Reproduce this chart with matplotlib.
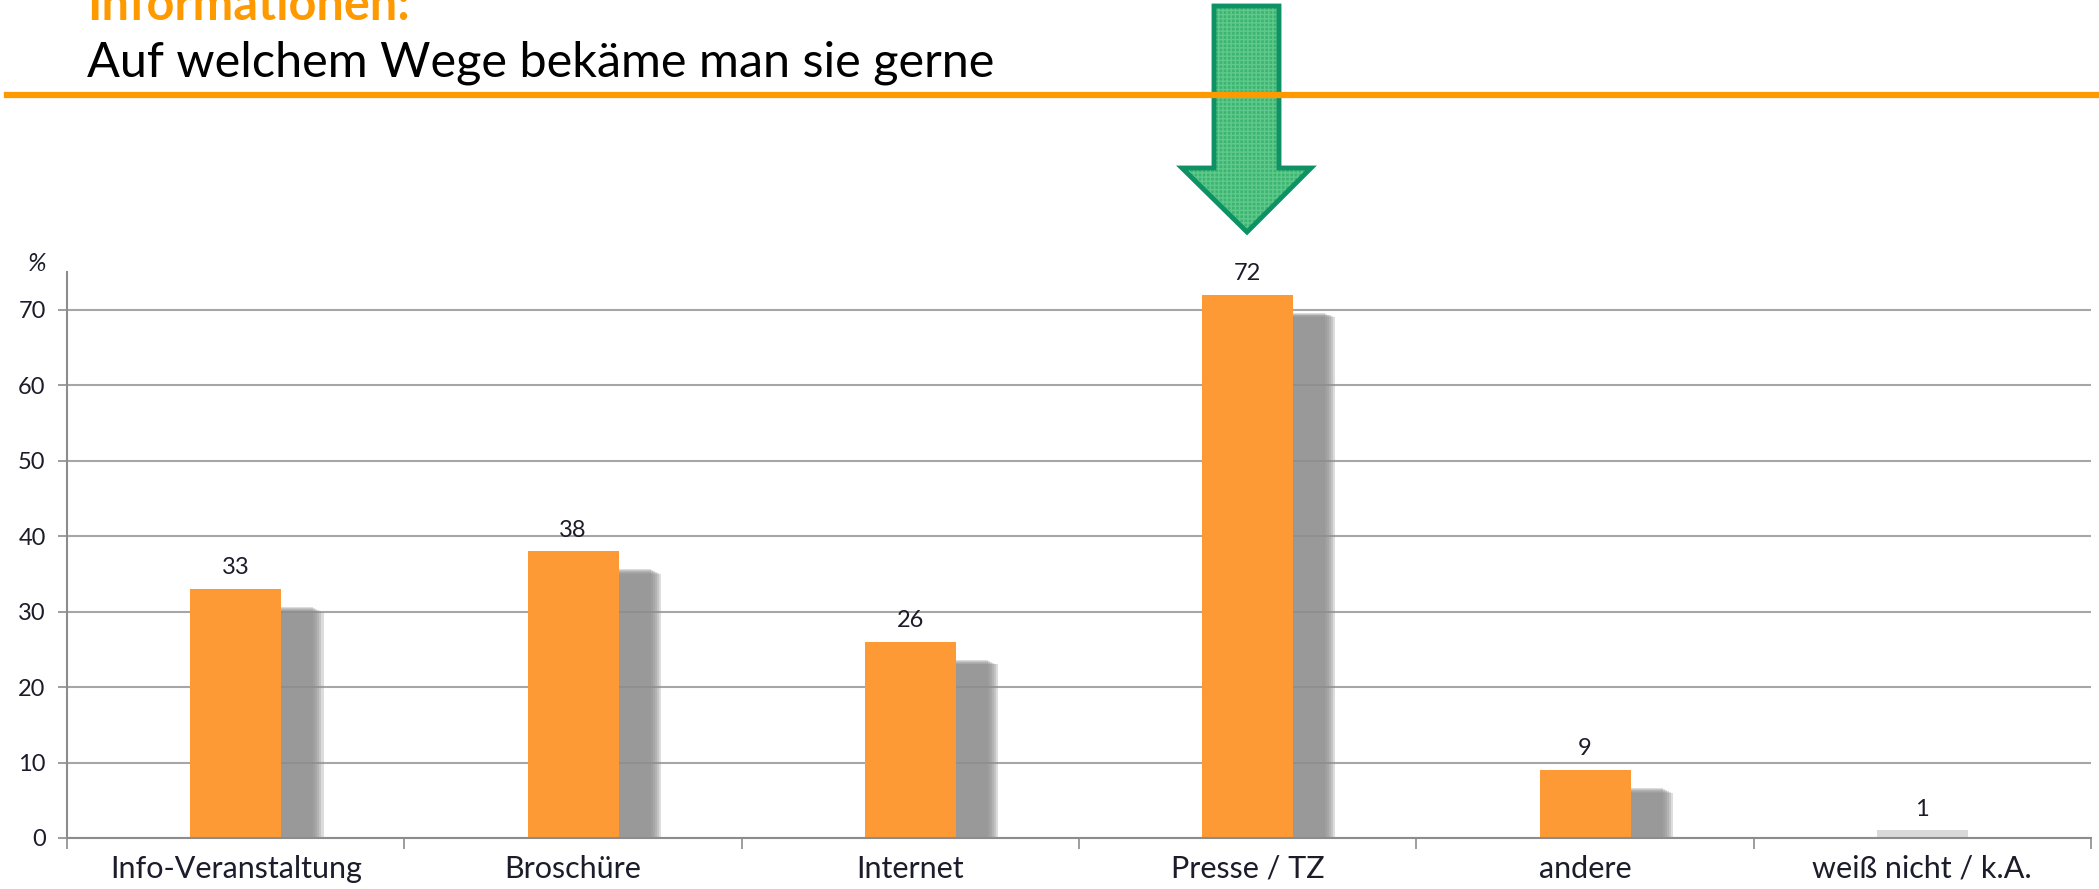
import matplotlib
matplotlib.use("Agg")
from matplotlib import pyplot as plt
from matplotlib.patches import Polygon
from matplotlib.lines import Line2D
import numpy as np

categories = ["Info-Veranstaltung", "Broschüre", "Internet", "Presse / TZ", "andere", "weiß nicht / k.A."]
values = [33, 38, 26, 72, 9, 1]
bar_colors = ["#fd9a35", "#fd9a35", "#fd9a35", "#fd9a35", "#fd9a35", "#d9d9d9"]
yticks = [0, 10, 20, 30, 40, 50, 60, 70]

plt.rcParams['font.family'] = ['Lato', 'DejaVu Sans']

fig = plt.figure(figsize=(20.99, 8.89), dpi=100)
ax = fig.add_axes([0.032, 0.0574, 0.9642, 0.6366])

x = np.arange(len(categories))
w = 0.27

# soft drop shadows behind the orange bars
for xi, v, c in zip(x, values, bar_colors):
    if c == "#d9d9d9":
        continue
    for k in range(6):
        grow = 0.012 * (5 - k)
        ax.bar(xi + 0.095, v - 1.8 - grow * 10, width=w + grow, bottom=-0.6,
               color="#8e8e8e", alpha=0.3, linewidth=0, zorder=1)

ax.bar(x, values, width=w, color=bar_colors, linewidth=0, zorder=2)

for xi, v in zip(x, values):
    ax.text(xi, v + 1.4, str(v), ha='center', va='bottom', fontsize=17, color='#1c1c2a', zorder=3)

ax.set_xlim(-0.5, len(categories) - 0.5)
ax.set_ylim(0, 75)
ax.set_yticks(yticks)
ax.set_yticklabels([str(t) for t in yticks], fontsize=17, color='#1c1c2a')
ax.set_xticks(x)
ax.set_xticklabels(categories, fontsize=22, color='#1c1c2a')
ax.set_xticks(np.arange(len(categories) + 1) - 0.5, minor=True)
ax.tick_params(axis='x', which='major', length=0, pad=12)
ax.tick_params(axis='x', which='minor', length=8, color='#8c8c8c', width=1.2)
ax.tick_params(axis='y', length=6.5, color='#8c8c8c', width=1.2, pad=9)

ax.yaxis.grid(True, color='#a6a6a6', linewidth=1.5, zorder=0)
ax.set_axisbelow(True)
for s in ['top', 'right']:
    ax.spines[s].set_visible(False)
for s in ['left', 'bottom']:
    ax.spines[s].set_color('#8c8c8c')
    ax.spines[s].set_linewidth(1.5)

fig.text(0.0176, 0.704, "%", fontsize=18, style='italic', ha='center', va='center', color='#1c1c2a')

# header
fig.text(0.0414, 0.9775, "Informationen:", fontsize=35, fontweight='bold', color='#ff9900', va='baseline')
fig.text(0.0414, 0.9145, "Auf welchem Wege bekäme man sie gerne", fontsize=35, color='black', va='baseline')
fig.add_artist(Line2D([0.0033, 1.0], [0.893, 0.893], transform=fig.transFigure, color='#ff9900', linewidth=4.5))

# green arrow pointing to Presse / TZ
W, H = 2099.0, 889.0
pts = [(1214, 6), (1279, 6), (1279, 168), (1311, 168), (1247, 232), (1182, 168), (1214, 168)]
pts = [(px / W, 1 - py / H) for px, py in pts]
fig.add_artist(Polygon(pts, closed=True, transform=fig.transFigure, facecolor='#28ad62',
                       edgecolor='#62cc8f', hatch='++++', linewidth=0, alpha=0.9))
fig.add_artist(Polygon(pts, closed=True, transform=fig.transFigure, facecolor='none',
                       edgecolor='#0e9164', linewidth=3.5, joinstyle='miter'))

fig.savefig("out.png", dpi=100)
